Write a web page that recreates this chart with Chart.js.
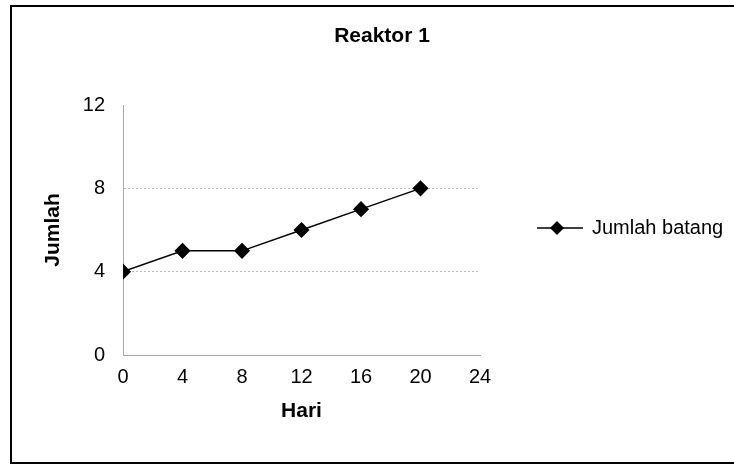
<!DOCTYPE html>
<html>
<head>
<meta charset="utf-8">
<script src="https://cdn.jsdelivr.net/npm/chart.js"></script>
<style>
  body { margin: 0; background: #fff; }
  #wrap { width: 734px; height: 469px; }
</style>
</head>
<body>
<div id="wrap"><canvas id="chart"></canvas></div>
<script>
// data
const hari = [0, 4, 8, 12, 16, 20];
const jumlahBatang = [4, 5, 5, 6, 7, 8];
const seriesName = 'Jumlah batang';
const chartTitle = 'Reaktor 1';
const xTitle = 'Hari';
const yTitle = 'Jumlah';

const font = 'Liberation Sans, Arial, sans-serif';

// frame, title and legend drawn by hand (excel style)
const framePlugin = {
    id: 'frame',
    beforeDraw(chart) {
        const ctx = chart.ctx;
        ctx.save();
        ctx.fillStyle = '#fff';
        ctx.fillRect(0, 0, chart.width, chart.height);
        ctx.strokeStyle = '#000';
        ctx.lineWidth = 2;
        ctx.strokeRect(11, 6, chart.width + 20, chart.height - 12);
        ctx.restore();
    },
    afterDraw(chart) {
        const ctx = chart.ctx;
        ctx.save();
        ctx.fillStyle = '#000';
        ctx.font = 'bold 21px ' + font;
        ctx.textAlign = 'center';
        ctx.textBaseline = 'middle';
        ctx.fillText(chartTitle, 382, 36);

        const y = 228;
        ctx.strokeStyle = '#000';
        ctx.lineWidth = 1.5;
        ctx.beginPath();
        ctx.moveTo(537, y);
        ctx.lineTo(583, y);
        ctx.stroke();
        ctx.beginPath();
        ctx.moveTo(557, y - 7);
        ctx.lineTo(564, y);
        ctx.lineTo(557, y + 7);
        ctx.lineTo(550, y);
        ctx.closePath();
        ctx.fill();
        ctx.font = '20px ' + font;
        ctx.textAlign = 'left';
        ctx.fillText(chart.data.datasets[0].label, 592, y);
        ctx.restore();
    }
};

new Chart(document.getElementById('chart'), {
    type: 'line',
    data: {
        datasets: [{
            label: seriesName,
            data: hari.map((h, i) => ({ x: h, y: jumlahBatang[i] })),
            borderColor: '#000',
            borderWidth: 1.5,
            backgroundColor: '#000',
            pointStyle: 'rectRot',
            pointRadius: 7,
            pointBackgroundColor: '#000',
            pointBorderColor: '#000',
            tension: 0
        }]
    },
    options: {
        responsive: true,
        maintainAspectRatio: false,
        animation: false,
        layout: { padding: { left: 12, right: 254, top: 105, bottom: 0 } },
        plugins: {
            legend: { display: false },
            tooltip: { enabled: false },
            title: { display: false }
        },
        scales: {
            x: {
                type: 'linear',
                min: 0,
                max: 24,
                ticks: {
                    stepSize: 4,
                    color: '#000',
                    padding: 10,
                    font: { family: font, size: 20 }
                },
                grid: { display: false, drawTicks: false },
                border: { display: true, color: '#aaa', dash: [2, 2], width: 1 },
                title: {
                    display: true,
                    text: xTitle,
                    color: '#000',
                    font: { family: font, size: 21, weight: 'bold' },
                    padding: { top: 0, bottom: 45 }
                },
                afterFit(scale) { scale.height = 114; }
            },
            y: {
                min: 0,
                max: 12,
                ticks: {
                    stepSize: 4,
                    color: '#000',
                    padding: 18,
                    font: { family: font, size: 20 }
                },
                grid: {
                    drawTicks: false,
                    color: ctx => (ctx.tick && (ctx.tick.value === 12 || ctx.tick.value === 0)) ? 'rgba(0,0,0,0)' : '#bbb'
                },
                border: { display: true, color: '#aaa', dash: [2, 2], width: 1 },
                title: {
                    display: true,
                    text: yTitle,
                    color: '#000',
                    font: { family: font, size: 21, weight: 'bold' },
                    padding: { top: 29, bottom: 0 }
                },
                afterFit(scale) { scale.width = 111; }
            }
        }
    },
    plugins: [framePlugin]
});
</script>
</body>
</html>
